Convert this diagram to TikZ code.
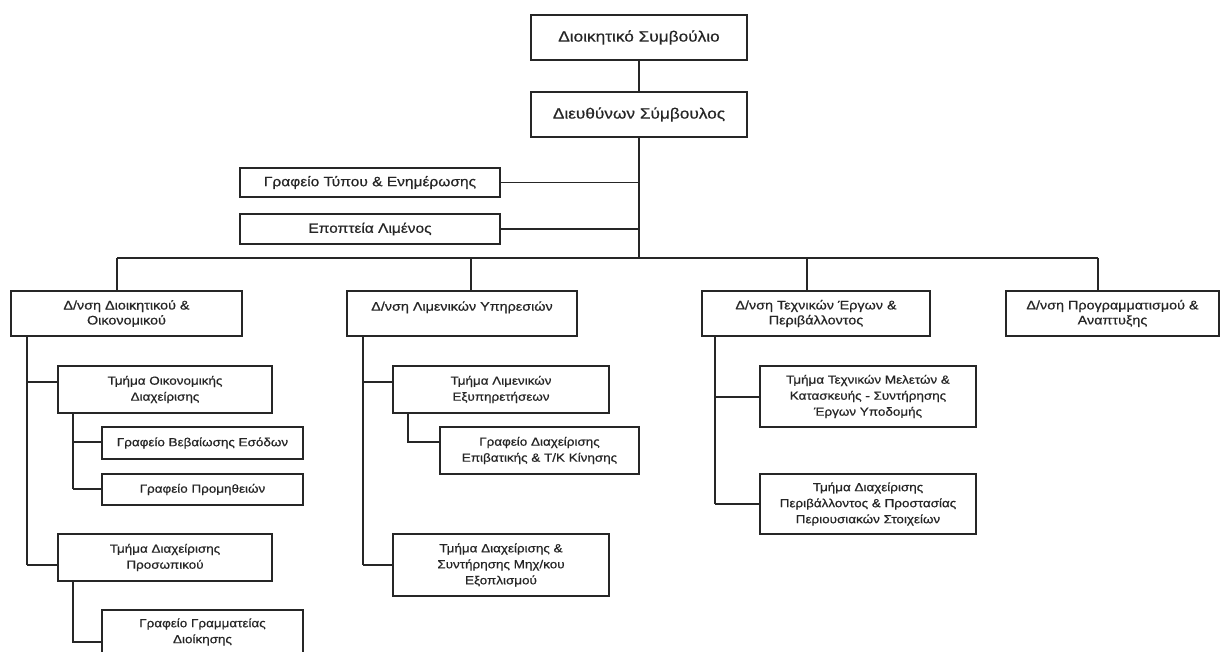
\documentclass[tikz,border=0pt]{standalone}
\usepackage{fontspec}
\setmainfont{Liberation Sans}[FakeStretch=1.15,FakeBold=0.6]
\begin{document}
\begin{tikzpicture}[x=1pt,y=-1pt,
  box/.style={draw=black!85, line width=1.3pt, inner sep=0pt, outer sep=0pt, align=center, text=black!85},
  topbox/.style={box, font=\fontsize{15}{18}\selectfont},
  sidebox/.style={box, font=\fontsize{13.5}{16}\selectfont},
  divbox/.style={box, font=\fontsize{12.5}{15}\selectfont},
  subbox/.style={box, font=\fontsize{11.7}{16}\selectfont},
  conn/.style={draw=black!85, line width=1.3pt}]
\useasboundingbox (0,0) rectangle (1220,652);
\clip (0,0) rectangle (1220,652);
\fill[white] (0,0) rectangle (1220,652);

% top level
\node[topbox, minimum width=216pt, minimum height=45pt] (dsm) at (639,37.5) {Διοικητικό Συμβούλιο};
\node[topbox, minimum width=216pt, minimum height=45pt] (ds) at (639,114.5) {Διευθύνων Σύμβουλος};
\node[sidebox, minimum width=260pt, minimum height=29pt] (typou) at (370,182.5) {Γραφείο Τύπου \& Ενημέρωσης};
\node[sidebox, minimum width=260pt, minimum height=30pt] (epopt) at (370,229) {Εποπτεία Λιμένος};

% directorates
\node[divbox, minimum width=231pt, minimum height=45pt] (d1) at (126.5,313.5) {Δ/νση Διοικητικού \&\\Οικονομικού};
\node[divbox, minimum width=230pt, minimum height=45pt] (d2) at (462,313.5) {Δ/νση Λιμενικών Υπηρεσιών\\\mbox{}};
\node[divbox, minimum width=228pt, minimum height=45pt] (d3) at (816,313.5) {Δ/νση Τεχνικών Έργων \&\\Περιβάλλοντος};
\node[divbox, minimum width=213pt, minimum height=45pt] (d4) at (1112.5,313.5) {Δ/νση Προγραμματισμού \&\\Αναπτυξης};

% left column
\node[subbox, minimum width=214pt, minimum height=47pt] (t1) at (165,389.5) {Τμήμα Οικονομικής\\Διαχείρισης};
\node[subbox, minimum width=201pt, minimum height=32pt] (g1) at (202.5,443) {Γραφείο Βεβαίωσης Εσόδων};
\node[subbox, minimum width=201pt, minimum height=31pt] (g2) at (202.5,489.5) {Γραφείο Προμηθειών};
\node[subbox, minimum width=214pt, minimum height=47pt] (t2) at (165,557.5) {Τμήμα Διαχείρισης\\Προσωπικού};
\node[subbox, minimum width=201pt, minimum height=44pt] (g3) at (202.5,632) {Γραφείο Γραμματείας\\Διοίκησης};

% middle column
\node[subbox, minimum width=216pt, minimum height=47pt] (m1) at (501,389.5) {Τμήμα Λιμενικών\\Εξυπηρετήσεων};
\node[subbox, minimum width=199pt, minimum height=47pt] (m2) at (539.5,450.5) {Γραφείο Διαχείρισης\\Επιβατικής \& Τ/Κ Κίνησης};
\node[subbox, minimum width=216pt, minimum height=62pt] (m3) at (501,565) {Τμήμα Διαχείρισης \&\\Συντήρησης Μηχ/κου\\Εξοπλισμού};

% right column
\node[subbox, minimum width=216pt, minimum height=61pt] (r1) at (868,396.5) {Τμήμα Τεχνικών Μελετών \&\\Κατασκευής - Συντήρησης\\Έργων Υποδομής};
\node[subbox, minimum width=216pt, minimum height=60pt] (r2) at (868,504) {Τμήμα Διαχείρισης\\Περιβάλλοντος \& Προστασίας\\Περιουσιακών Στοιχείων};

% top connectors
\coordinate (bus) at (639,258);
\draw[conn] (dsm.south) -- (ds.north);
\draw[conn] (ds.south) -- (bus);
\draw[conn] (typou.east) -- (typou.east -| bus);
\draw[conn] (epopt.east) -- (epopt.east -| bus);

% bus
\coordinate (B1) at (117,258);
\coordinate (B2) at (471,258);
\coordinate (B3) at (807,258);
\coordinate (B4) at (1098,258);
\draw[conn] (B1) -- (B4);
\draw[conn] (B1) -- (B1 |- d1.north);
\draw[conn] (B2) -- (B2 |- d2.north);
\draw[conn] (B3) -- (B3 |- d3.north);
\draw[conn] (B4) -- (B4 |- d4.north);

% left trunks
\coordinate (L1) at (27,382);
\coordinate (L2) at (27,565);
\draw[conn] (L1 |- d1.south) -- (L2);
\draw[conn] (L1) -- (L1 -| t1.west);
\draw[conn] (L2) -- (L2 -| t2.west);
\coordinate (La1) at (73,442);
\coordinate (La2) at (73,489);
\draw[conn] (La1 |- t1.south) -- (La2);
\draw[conn] (La1) -- (La1 -| g1.west);
\draw[conn] (La2) -- (La2 -| g2.west);
\coordinate (Lb1) at (73,642);
\draw[conn] (Lb1 |- t2.south) -- (Lb1) -- (Lb1 -| g3.west);

% middle trunks
\coordinate (M1) at (363,382);
\coordinate (M2) at (363,565);
\draw[conn] (M1 |- d2.south) -- (M2);
\draw[conn] (M1) -- (M1 -| m1.west);
\draw[conn] (M2) -- (M2 -| m3.west);
\coordinate (Ma1) at (408,442);
\draw[conn] (Ma1 |- m1.south) -- (Ma1) -- (Ma1 -| m2.west);

% right trunks
\coordinate (R1) at (715,397);
\coordinate (R2) at (715,504);
\draw[conn] (R1 |- d3.south) -- (R2);
\draw[conn] (R1) -- (R1 -| r1.west);
\draw[conn] (R2) -- (R2 -| r2.west);
\end{tikzpicture}
\end{document}
